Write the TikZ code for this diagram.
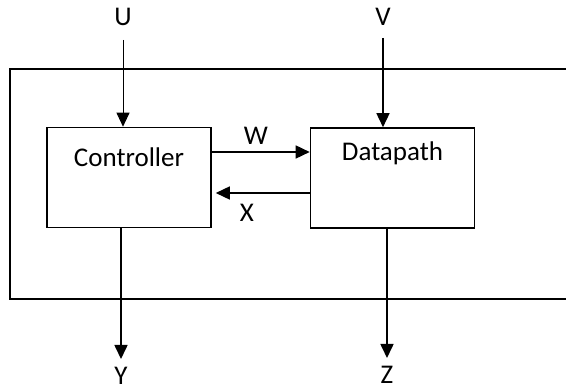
\documentclass[tikz,border=0pt]{standalone}
\usepackage{fontspec}
\setmainfont{Carlito}
\usetikzlibrary{arrows.meta}
\begin{document}
\begin{tikzpicture}[x=1pt,y=-1pt,
  blk/.style={draw,line width=1.6pt,minimum width=164pt,minimum height=100pt,inner sep=0pt},
  sig/.style={line width=1.6pt,-{Triangle[length=14pt,width=13pt]}},
  lbl/.style={font=\fontsize{27}{30}\selectfont,inner sep=0pt},
  every node/.style={font=\fontsize{27}{30}\selectfont}]
\useasboundingbox (0,0) rectangle (566,390);
% outer frame (open on the right)
\draw[line width=1.6pt] (566,69) -- (10,69) -- (10,299) -- (566,299);
% blocks
\node[blk] (ctrl) at (129,177.5) {};
\node[lbl] (ctrlt) at (129,157) {Controller};
\node[blk] (dp) at (392.5,178) {};
\node[lbl] (dpt) at (392.5,153) {Datapath};
% labels
\node[lbl] (U) at (123,17) {U};
\node[lbl] (V) at (383,17) {V};
\node[lbl] (W) at (256,136) {W};
\node[lbl] (X) at (247,213) {X};
\node[lbl] (Y) at (121,376) {Y};
\node[lbl] (Z) at (387,375) {Z};
% coordinates
\coordinate (u0) at (123,40);
\coordinate (v0) at (383,38);
\coordinate (y1) at (121,359);
\coordinate (z1) at (387,358);
% connectors
\draw[sig,line width=1pt] (u0) -- (u0 |- ctrl.north);
\draw[sig] (v0) -- (v0 |- dp.north);
\draw[sig] (ctrl.east |- 0,152) -- (dp.west |- 0,152);
\draw[sig] (dp.west |- 0,193) -- ([xshift=4pt]ctrl.east |- 0,193);
\draw[sig] (y1 |- ctrl.south) -- (y1);
\draw[sig] (z1 |- dp.south) -- (z1);
\end{tikzpicture}
\end{document}
